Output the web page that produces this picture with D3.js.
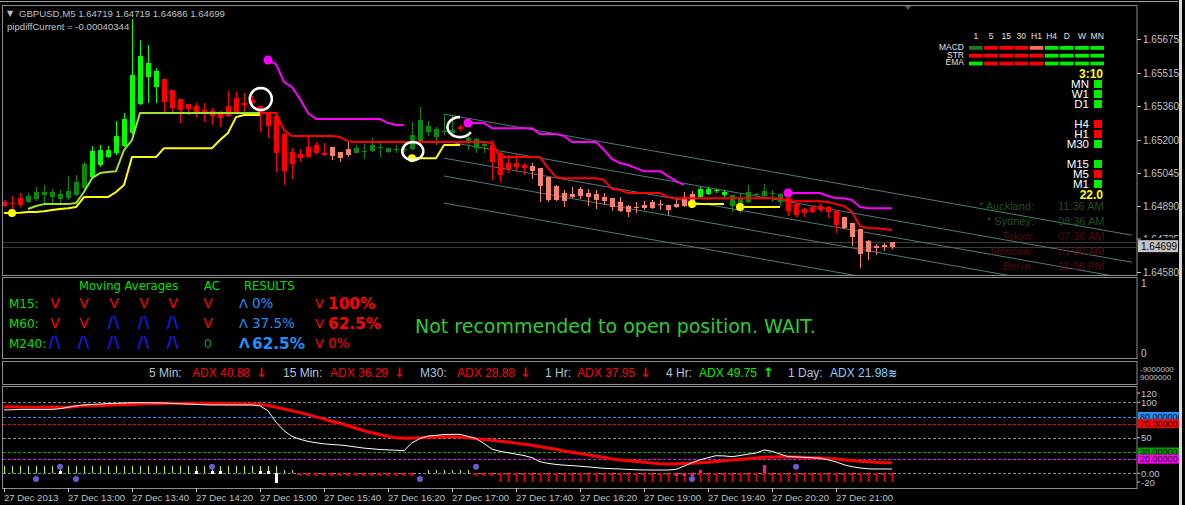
<!DOCTYPE html>
<html><head><meta charset="utf-8">
<script src="https://cdn.jsdelivr.net/npm/d3@7"></script>
<style>html,body{margin:0;padding:0;background:#000;overflow:hidden}svg{display:block}</style>
</head><body><svg id="c" width="1185" height="505"></svg>
<script>
// ---------------- DATA ----------------
const symbolTitle = "GBPUSD,M5";
const headerOHLC = [1.64719, 1.64719, 1.64686, 1.64699];
const pipdiffCurrent = "-0.00040344";
const bidPrice = 1.64699;
const askPrice = 1.64722;
const priceTicks = [1.65675, 1.65515, 1.65360, 1.65200, 1.65045, 1.64890, 1.64735, 1.64580];
const timeLabels = ["27 Dec 2013","27 Dec 13:00","27 Dec 13:40","27 Dec 14:20","27 Dec 15:00","27 Dec 15:40","27 Dec 16:20","27 Dec 17:00","27 Dec 17:40","27 Dec 18:20","27 Dec 19:00","27 Dec 19:40","27 Dec 20:20","27 Dec 21:00"];
const timeLabelBars = [0,8,16,24,32,40,48,56,64,72,80,88,96,104];

const open = [1.64909,1.64904,1.64927,1.64909,1.64923,1.64942,1.64932,1.64923,1.64927,1.64942,
1.64974,1.65026,1.65083,1.65120,1.65139,1.65172,1.65233,1.65369,1.65496,1.65449,
1.65487,1.65435,1.65393,1.65369,1.65360,1.65341,1.65336,1.65327,1.65360,1.65397,
1.65374,1.65388,1.65360,1.65332,1.65313,1.65228,1.65144,1.65134,1.65167,1.65177,
1.65139,1.65167,1.65144,1.65158,1.65139,1.65144,1.65148,1.65162,1.65144,1.65153,
1.65153,1.65158,1.65191,1.65238,1.65214,1.65238,1.65233,1.65261,1.65186,1.65162,
1.65172,1.65177,1.65139,1.65092,1.65092,1.65083,1.65078,1.65068,1.65026,1.64984,
1.64951,1.64946,1.64970,1.64951,1.64946,1.64932,1.64927,1.64909,1.64890,1.64885,
1.64895,1.64909,1.64899,1.64895,1.64899,1.64932,1.64946,1.64932,1.64946,1.64960,
1.64942,1.64890,1.64876,1.64909,1.64942,1.64937,1.64946,1.64909,1.64927,1.64899,
1.64876,1.64885,1.64890,1.64885,1.64866,1.64838,1.64810,1.64782,1.64725,1.64702,
1.64707,1.64719];
const high = [1.64918,1.64937,1.64951,1.64951,1.64979,1.64989,1.64970,1.64965,1.65031,1.65036,
1.65097,1.65172,1.65177,1.65172,1.65289,1.65327,1.65769,1.65670,1.65647,1.65538,
1.65487,1.65435,1.65393,1.65369,1.65374,1.65374,1.65350,1.65336,1.65430,1.65426,
1.65421,1.65407,1.65360,1.65332,1.65327,1.65233,1.65162,1.65158,1.65219,1.65191,
1.65186,1.65167,1.65144,1.65195,1.65177,1.65181,1.65209,1.65186,1.65162,1.65177,
1.65177,1.65285,1.65355,1.65289,1.65261,1.65322,1.65318,1.65271,1.65233,1.65209,
1.65191,1.65200,1.65144,1.65130,1.65139,1.65092,1.65092,1.65068,1.65026,1.64989,
1.64965,1.64979,1.64979,1.64970,1.64965,1.64951,1.64927,1.64932,1.64895,1.64909,
1.64913,1.64918,1.64918,1.64895,1.64923,1.64956,1.64960,1.64979,1.64979,1.64970,
1.64965,1.64942,1.64951,1.64989,1.64951,1.64993,1.64965,1.64951,1.64932,1.64904,
1.64880,1.64895,1.64899,1.64890,1.64871,1.64838,1.64810,1.64782,1.64730,1.64711,
1.64716,1.64719];
const low = [1.64885,1.64857,1.64885,1.64904,1.64913,1.64904,1.64904,1.64895,1.64918,1.64937,
1.64970,1.65021,1.65073,1.65115,1.65130,1.65167,1.65224,1.65365,1.65374,1.65374,
1.65332,1.65322,1.65280,1.65318,1.65308,1.65285,1.65271,1.65261,1.65308,1.65327,
1.65327,1.65360,1.65238,1.65209,1.65050,1.64989,1.65017,1.65097,1.65115,1.65134,
1.65125,1.65106,1.65097,1.65120,1.65139,1.65111,1.65144,1.65120,1.65139,1.65139,
1.65144,1.65153,1.65177,1.65219,1.65177,1.65224,1.65214,1.65242,1.65153,1.65139,
1.65139,1.65012,1.65003,1.65045,1.65050,1.65036,1.65017,1.64909,1.64909,1.64913,
1.64885,1.64927,1.64923,1.64890,1.64876,1.64895,1.64866,1.64862,1.64838,1.64857,
1.64871,1.64876,1.64871,1.64848,1.64880,1.64885,1.64904,1.64927,1.64942,1.64951,
1.64932,1.64862,1.64857,1.64904,1.64932,1.64927,1.64909,1.64890,1.64843,1.64838,
1.64838,1.64857,1.64862,1.64833,1.64763,1.64782,1.64702,1.64598,1.64636,1.64660,
1.64678,1.64686];
const close = [1.64890,1.64899,1.64895,1.64937,1.64956,1.64956,1.64956,1.64946,1.64960,1.65003,
1.65087,1.65148,1.65153,1.65153,1.65219,1.65299,1.65506,1.65595,1.65562,1.65524,
1.65379,1.65350,1.65341,1.65346,1.65327,1.65332,1.65313,1.65303,1.65313,1.65327,
1.65365,1.65374,1.65327,1.65266,1.65139,1.65054,1.65087,1.65115,1.65120,1.65139,
1.65130,1.65125,1.65115,1.65130,1.65162,1.65148,1.65177,1.65167,1.65162,1.65158,
1.65158,1.65224,1.65294,1.65266,1.65252,1.65242,1.65247,1.65252,1.65209,1.65205,
1.65181,1.65097,1.65036,1.65064,1.65073,1.65068,1.65054,1.64984,1.64918,1.64918,
1.64913,1.64932,1.64937,1.64932,1.64918,1.64913,1.64885,1.64866,1.64862,1.64880,
1.64880,1.64880,1.64895,1.64871,1.64885,1.64890,1.64913,1.64970,1.64970,1.64965,
1.64956,1.64942,1.64923,1.64956,1.64946,1.64960,1.64951,1.64946,1.64866,1.64848,
1.64857,1.64862,1.64871,1.64862,1.64801,1.64786,1.64744,1.64664,1.64674,1.64692,
1.64697,1.64699];
// candle colour class: r=red, s=salmon, g=dark green, G=lime
const candleClass = ("rrr"+"gggggggg"+"GGGGGGGGG"+"rrrrrrrrrrrrrrrrrrrrr"+"sss"+"ggggggggggggg"+"r"+"ggg"+"rrrrr"+"sssssssssssssssssssss"+"GGGG"+"ggggggg"+"rrrrrrr"+"sssssss").split("");

const yellowLine = [1.64857,1.64857,1.64859,1.64862,1.64862,1.64866,1.64871,1.64876,1.64880,1.64885,
1.64932,1.64932,1.64932,1.64932,1.64956,1.64989,1.65120,1.65120,1.65120,1.65120,
1.65162,1.65162,1.65162,1.65162,1.65162,1.65162,1.65162,1.65200,1.65233,1.65308,
1.65318,1.65318,1.65318,null,null,null,null,null,null,null,
null,null,null,null,null,null,null,null,null,null,
null,1.65115,1.65115,1.65115,1.65115,1.65177,1.65177,1.65177,null,null,
null,null,null,null,null,null,null,null,null,null,
null,null,null,null,null,null,null,null,null,null,
null,null,null,null,null,null,1.64899,1.64899,1.64899,1.64899,
1.64899,null,1.64885,1.64885,1.64885,1.64885,1.64885,1.64885,null,null,
null,null,null,null,null,null,null,null,null,null,
null,null];
const yellowDots = [1,51,86,92];
const greenYellowLine = [null,null,null,1.64876,1.64890,1.64899,1.64899,1.64899,1.64899,1.64904,
1.64956,1.65021,1.65045,1.65050,1.65054,1.65153,1.65200,1.65327,1.65327,1.65327,
1.65327,1.65327,1.65327,1.65327,1.65327,1.65327,1.65327,1.65327,1.65327,1.65327,
1.65327,1.65327,1.65327,null,null,null,null,null,null,null,
null,null,null,null,null,null,null,null,null,null,
null,null,null,null,null,null,null,null,null,null,
null,null,null,null,null,null,null,null,null,null,
null,null,null,null,null,null,null,null,null,null,
null,null,null,null,null,null,null,null,null,null,
null,null,null,null,null,null,null,null,null,null,
null,null,null,null,null,null,null,null,null,null,
null,null];
const redLine = [null,null,null,null,null,null,null,null,null,null,
null,null,null,null,null,null,null,null,null,null,
null,null,null,null,null,null,null,null,null,null,
null,null,1.65327,1.65327,1.65327,1.65247,1.65219,1.65219,1.65219,1.65219,
1.65219,1.65219,1.65214,1.65195,1.65191,1.65191,1.65191,1.65191,1.65191,1.65191,
1.65191,1.65191,1.65191,1.65191,1.65191,1.65191,1.65191,1.65191,1.65191,1.65191,
1.65191,1.65186,1.65120,1.65120,1.65120,1.65120,1.65120,1.65120,1.65068,1.65026,
1.65021,1.65021,1.65021,1.65021,1.65021,1.65012,1.64970,1.64965,1.64951,1.64951,
1.64951,1.64951,1.64951,1.64932,1.64927,1.64927,1.64927,1.64927,1.64927,1.64927,
1.64927,1.64927,1.64927,1.64927,1.64927,1.64927,1.64927,1.64927,1.64913,1.64913,
1.64913,1.64913,1.64913,1.64909,1.64899,1.64890,1.64862,1.64796,1.64786,1.64786,
1.64782,1.64777];
const magentaLine = [null,null,null,null,null,null,null,null,null,null,
null,null,null,null,null,null,null,null,null,null,
null,null,null,null,null,null,null,null,null,null,
null,null,null,1.65576,1.65557,1.65473,1.65449,1.65393,1.65327,1.65299,
1.65299,1.65299,1.65299,1.65299,1.65299,1.65299,1.65299,1.65299,1.65280,1.65271,
1.65271,null,null,null,null,null,null,null,1.65280,1.65280,
1.65280,1.65256,1.65256,1.65256,1.65256,1.65256,1.65256,1.65228,1.65228,1.65228,
1.65219,1.65191,1.65191,1.65191,1.65191,1.65153,1.65111,1.65092,1.65083,1.65068,
1.65054,1.65054,1.65054,1.65031,1.65007,1.64989,null,null,null,null,
null,null,null,null,null,null,null,null,1.64951,1.64951,
1.64951,1.64951,1.64951,1.64937,1.64927,1.64927,1.64918,1.64885,1.64880,1.64880,
1.64880,1.64880];
const magentaDots = [33,58,98];
// regression channel (start bar 55 -> end bar 141)
const channelBars = [55, 141];
const channelStart = [1.65322, 1.65195, 1.65115, 1.65031, 1.64904];
const channelEnd   = [1.64753, 1.64626, 1.64546, 1.64462, 1.64335];
// hand drawn annotations: [bar, price, rx, ry, arcStartDeg, arcEndDeg]
const annotations = [[32.1,1.65393,11,11,0,360],[51.1,1.65148,10.5,9,0,360],[57,1.65261,12.5,10,-90,-330]];

// MTF panel
const mtfCols = ["1","5","15","30","H1","H4","D","W","MN"];
const mtfRows = ["MACD","STR","EMA"];
const mtfMACD = ["dg","r","r","r","s","g","g","g","g"];
const mtfSTR  = ["r","r","r","r","r","g","g","g","g"];
const mtfEMA  = ["g","r","r","r","r","g","g","g","g"];
const trendTimer = "3:10";
const trendTf = ["MN","W1","D1","H4","H1","M30","M15","M5","M1"];
const trendState = ["up","up","up","dn","dn","up","up","dn","up"];
const spreadText = "22.0";
const cities = ["* Auckland:","* Sydney:","Tokyo:","Moscow:","Berlin:"];
const cityTimes = ["11:36 AM","08:36 AM","07:36 AM","01:36 AM","11:36 PM"];
const cityOpen = [true,true,false,false,false];

// MA panel
const maHeader = ["Moving Averages","AC","RESULTS"];
const maRows = ["M15:","M60:","M240:"];
const maSignals = [["dn","dn","dn","dn","dn"],["dn","dn","up","up","up"],["up","up","up","up","up"]];
const acSignals = ["dn","dn","0"];
const buyPct = ["0%","37.5%","62.5%"];
const sellPct = ["100%","62.5%","0%"];
const buyBold = [false,false,true];
const sellBold = [true,true,false];
const message = "Not recommended to open position. WAIT.";

// ADX strip
const adxTf = ["5 Min:","15 Min:","M30:","1 Hr:","4 Hr:","1 Day:"];
const adxVal = [40.88,36.29,28.88,37.95,49.75,21.98];
const adxDir = ["dn","dn","dn","dn","up","flat"];

// lower indicator
const levels = [100,80,70,50,30,20,0];
const levelColors = ["#8a8a8a","#1e90ff","#ff0000","#8a8a8a","#00b000","#ff00ff","#8a8a8a"];
const lowerTicks = [120,100,50,0,-20];
const lowerTickText = ["120","100","50","0.00","-20"];
const lowerBoxes = [80,70,30,20];
const lowerBoxText = ["80.000000","70.00000","30.00000","20.00000"];
const lowerBoxColor = ["#1e90ff","#ff0000","#00a000","#ff00ff"];
const adxRed = [93.8,93.5,93.5,93,93,93,93,93,93,94,
95,95,95.5,96,96.5,97,97,97.6,98,98.3,
98.6,98.6,98.6,98.6,98.6,98.6,98.4,98.2,98,97.8,
97.6,97.6,97,95.5,93,90.5,88,85.5,82.5,79.5,
76.5,73,70.4,67,63.5,60,57,54.5,52,50,
49.3,49.5,50,50.5,51,51.5,51.5,51,50,48.5,
47.5,46.5,45,44,42.5,41,39.5,37.5,35.5,33.8,
31.5,29.6,28,26,24,22.5,20,18.7,17.5,16.5,
15.5,14.5,13.5,13.1,13.3,13.8,14.3,14.9,15.5,16.5,
17.5,18.7,19.5,20.5,21.5,22.5,23,23.4,23.4,23,
22.5,22,22,21,20,19,18,17,16.3,15.5,
15,14.9];
const adxWhite = [89.2,89.5,90,90,90,90,90,91,93,95,
96.2,97,97.5,98.2,98.6,99,99.4,99.4,99.4,99.2,
99,98.5,98,97.5,97,96.5,96.2,96.2,96.2,96.2,
96.2,96.2,95,88,72,60,52,47.9,45,43,
41.5,40.5,39.9,38.5,37,35.5,34.5,33.5,33,32.5,
31.8,43,49,52.5,53.5,54.5,54.9,54.9,52,49,
42,34,31,29,27,25,22,16.3,14,12.5,
11.5,10.8,10,9,8,7,6.5,6.1,5.5,5,
4.8,4.6,4.6,4.6,5.6,10,15,19,22,24.8,
24.5,23.4,25,27,28.5,32.8,31,27,23.5,23,
22.5,22,21.1,19,16,12,9.3,7.5,6.3,6.1,
6.1,6.1];
const sigUp = [10,10,10,10,10,10,10,10,10,10,
10,10,10,10,10,10,10,10,10,10,
10,10,10,10,10,10,10,10,10,10,
10,10,10,10,10,4.5,4.5,null,null,null,
null,null,null,null,null,null,null,null,null,null,
null,null,null,4.5,4.5,4.5,4.5,4.5,4.5,null,
null,null,null,null,null,null,null,null,null,null,
null,null,null,null,null,null,null,null,null,null,
null,null,null,null,null,null,null,null,null,null,
null,null,null,null,null,null,null,null,null,null,
null,null,null,null,null,null,null,null,null,null,
null,null];
const sigDn = [null,null,null,null,null,null,null,null,null,null,
null,null,null,null,null,null,null,null,null,null,
null,null,null,null,null,null,null,null,null,null,
null,null,null,null,null,null,null,-3.8,-3.8,-3.8,
-3.8,-3.8,-3.8,-3.8,-3.8,-3.8,-3.8,-3.8,-3.8,-3.8,
-3.8,-3.8,null,null,null,null,null,null,null,-3.8,
-3.8,-3.8,-12.3,-12.3,-12.3,-12.3,-12.3,-12.3,-12.3,-12.3,
-12.3,-12.3,-12.3,-12.3,-12.3,-12.3,-12.3,-12.3,-12.3,-12.3,
-12.3,-12.3,-12.3,-12.3,-12.3,-12.3,-12.3,-12.3,-12.3,-12.3,
-12.3,-12.3,-12.3,-12.3,-12.3,-12.3,-12.3,-12.3,-12.3,-12.3,
-12.3,-12.3,-12.3,-12.3,-12.3,-12.3,-12.3,-12.3,-12.3,-12.3,
-12.3,-12.3];
const whiteSquares = [7,24,26,27,32,33];
const whiteSquareVal = 3.5;
const whiteBar = [34, -14];
const pinkSquares = [[84,-1.5],[85,-1.5],[86,-1.5],[87,3]];
const pinkBar = [95, 1, 11.7];
const blueDotsUp = [7,26,59,99];
const blueDotsDn = [4,9,52,86];
const blueUpVal = 9.3, blueDnVal = -8.2;

// ---------------- DRAW ----------------
const F = "'Liberation Sans', Arial, sans-serif";
const FD = "'DejaVu Sans', Verdana, sans-serif";
const svg = d3.select("#c");
svg.append("rect").attr("width",1185).attr("height",505).attr("fill","#000");

const xBar = d3.scaleLinear().domain([0,111]).range([4,892]);
const yP = d3.scaleLinear().domain([1.64580,1.65675]).range([272,39]);
const yI = d3.scaleLinear().domain([0,100]).range([473.3,402.3]);

// outer lines
svg.append("line").attr("x1",0).attr("x2",1178).attr("y1",1.5).attr("y2",1.5).attr("stroke","#a0a0a0");
svg.append("rect").attr("x",1179).attr("y",0).attr("width",3).attr("height",505).attr("fill","#d8d8d8");

const frameC = "#8c8c8c";
[[5.5,275.5],[277.5,358.5],[361.5,384.5],[386.5,488.5]].forEach(([a,b])=>{
  svg.append("rect").attr("x",2.5).attr("y",a).attr("width",1134.5).attr("height",b-a)
    .attr("fill","none").attr("stroke",frameC);
});
svg.append("path").attr("d","M905,6 L911,6 L908,10 Z").attr("fill","#555");

const defs = svg.append("defs");
defs.append("clipPath").attr("id","cm").append("rect").attr("x",3).attr("y",6).attr("width",1134).attr("height",269);
defs.append("clipPath").attr("id","cb").append("rect").attr("x",3).attr("y",387).attr("width",1134).attr("height",101);
defs.append("clipPath").attr("id","cr").append("rect").attr("x",1137).attr("y",380).attr("width",42).attr("height",110);

const main = svg.append("g").attr("clip-path","url(#cm)");

// session clock (faded, behind)
const clk = svg.append("g").attr("font-family",F).attr("font-size",11);
cities.forEach((c,i)=>{
  const col = cityOpen[i] ? "#1d521d" : "#560a0a";
  const y = 210 + i*15;
  clk.append("text").attr("x",1034).attr("y",y).attr("text-anchor","end").attr("fill",col).text(c);
  clk.append("text").attr("x",1058).attr("y",y).attr("fill",col).text(cityTimes[i]);
});

// bid/ask lines
[askPrice,bidPrice].forEach(p=>{
  main.append("line").attr("x1",3).attr("x2",1137).attr("y1",Math.round(yP(p))+0.5).attr("y2",Math.round(yP(p))+0.5)
    .attr("stroke","#3a3a3a");
});

// channel
channelStart.forEach((p,i)=>{
  main.append("line").attr("x1",xBar(channelBars[0])).attr("y1",yP(p))
    .attr("x2",xBar(channelBars[1])).attr("y2",yP(channelEnd[i]))
    .attr("stroke","#527a7a").attr("stroke-width",1);
});

// candles
const colorMap = {r:"#ff0000", s:"#fa8072", g:"#0a8a0a", G:"#00ff00"};
const cg = main.append("g").attr("shape-rendering","crispEdges");
open.forEach((o,i)=>{
  const c = colorMap[candleClass[i]];
  const x = Math.round(xBar(i));
  cg.append("rect").attr("x",x).attr("y",yP(high[i])).attr("width",1).attr("height",Math.max(1,yP(low[i])-yP(high[i]))).attr("fill",c);
  const top = yP(Math.max(o,close[i])), bot = yP(Math.min(o,close[i]));
  cg.append("rect").attr("x",x-2).attr("y",top).attr("width",5).attr("height",Math.max(1,bot-top)).attr("fill",c);
});

// overlay lines
const lineP = d3.line().defined(d=>d!=null).x((d,i)=>xBar(i)).y(d=>yP(d));
function drawLine(arr,col,w){
  main.append("path").attr("d",lineP(arr)).attr("fill","none").attr("stroke",col).attr("stroke-width",w).attr("stroke-linejoin","round");
}
drawLine(greenYellowLine,"#9ee02a",2);
drawLine(yellowLine,"#ffff00",2);
drawLine(redLine,"#ff0000",2);
drawLine(magentaLine,"#ff00ff",2);
yellowDots.forEach(i=> main.append("circle").attr("cx",xBar(i)).attr("cy",yP(yellowLine[i])).attr("r",4).attr("fill","#ffff00"));
magentaDots.forEach(i=> main.append("circle").attr("cx",xBar(i)).attr("cy",yP(magentaLine[i])).attr("r",4.5).attr("fill","#ff00ff"));

// annotations
annotations.forEach(([b,p,rx,ry,a0,a1])=>{
  const cx = xBar(b), cy = yP(p);
  const pts = d3.range(0,41).map(k=>{
    const a = (a0 + (a1-a0)*k/40)*Math.PI/180;
    return [cx+rx*Math.cos(a), cy+ry*Math.sin(a)];
  });
  main.append("path").attr("d",d3.line()(pts)).attr("fill","none").attr("stroke","#fff").attr("stroke-width",2.6);
});

// header texts
svg.append("text").attr("x",7).attr("y",16).attr("font-size",8).attr("font-family",FD).attr("fill","#c0c0c0").text("▼");
svg.append("text").attr("x",19).attr("y",17).attr("font-family",F).attr("font-size",9.6).attr("fill","#c0c0c0")
  .text(symbolTitle+"  "+headerOHLC.map(d=>d.toFixed(5)).join(" "));
svg.append("text").attr("x",7).attr("y",30).attr("font-family",F).attr("font-size",9.6).attr("fill","#c0c0c0")
  .text("pipdiffCurrent = "+pipdiffCurrent);

// price axis
const pAxis = svg.append("g").attr("transform","translate(1137,0)")
  .call(d3.axisRight(yP).tickValues(priceTicks.filter(p=>p!==1.64735)).tickFormat(d3.format(".5f")).tickSize(4).tickPadding(2));
pAxis.select(".domain").remove();
pAxis.selectAll("line").attr("stroke","#c0c0c0");
pAxis.selectAll("text").attr("fill","#c0c0c0").attr("font-family",F).attr("font-size",10);
// tick hidden behind the current-price box: only its top part shows
svg.append("line").attr("x1",1137).attr("x2",1141).attr("y1",yP(1.64735)).attr("y2",yP(1.64735)).attr("stroke","#c0c0c0");
defs.append("clipPath").attr("id","ch").append("rect").attr("x",1137).attr("y",yP(1.64735)-6).attr("width",42).attr("height",5);
svg.append("text").attr("clip-path","url(#ch)").attr("x",1143).attr("y",yP(1.64735)+3.5).attr("font-family",F).attr("font-size",10).attr("fill","#c0c0c0").text("1.64735");
// current price box
svg.append("rect").attr("x",1138).attr("y",yP(bidPrice)-6.5).attr("width",40).attr("height",12).attr("fill","#c4c4c4");
svg.append("text").attr("x",1141).attr("y",yP(bidPrice)+3.5).attr("font-family",F).attr("font-size",10).attr("fill","#000").text(bidPrice.toFixed(5));

// MTF panel
const mtf = svg.append("g").attr("font-family",F);
const colX = d3.scaleBand().domain(mtfCols).range([969,1104]).paddingInner(0.1);
const mtfColor = {dg:"#1f7a1f", r:"#ff0000", s:"#ff6a50", g:"#00ee00"};
mtfCols.forEach(c=>{
  mtf.append("text").attr("x",colX(c)+colX.bandwidth()/2).attr("y",38.5).attr("text-anchor","middle")
    .attr("font-size",8.5).attr("fill","#e0e0e0").text(c);
});
[mtfMACD,mtfSTR,mtfEMA].forEach((row,r)=>{
  const y = 46 + r*7.8;
  mtf.append("text").attr("x",964).attr("y",y+3.8).attr("text-anchor","end").attr("font-size",8.5).attr("fill","#e0e0e0").text(mtfRows[r]);
  row.forEach((v,k)=>{
    mtf.append("rect").attr("x",colX(mtfCols[k])).attr("y",y).attr("width",colX.bandwidth()).attr("height",3.8).attr("fill",mtfColor[v]);
  });
});
mtf.append("text").attr("x",1103).attr("y",78).attr("text-anchor","end").attr("font-size",12).attr("font-weight","bold").attr("fill","#ffff00").text(trendTimer);
const trendY = [88,98,108,128,138,148,168,178,188];
trendTf.forEach((t,i)=>{
  mtf.append("text").attr("x",1089).attr("y",trendY[i]).attr("text-anchor","end").attr("font-size",11.5)
    .attr("fill","#fff").text(t);
  mtf.append("rect").attr("x",1094).attr("y",trendY[i]-8).attr("width",8).attr("height",8)
    .attr("fill",trendState[i]==="up"?"#00ee00":"#ff0000");
});
mtf.append("text").attr("x",1103).attr("y",199).attr("text-anchor","end").attr("font-size",12).attr("font-weight","bold").attr("fill","#ffff00").text(spreadText);

// MA panel
const ma = svg.append("g").attr("font-family",FD);
ma.append("text").attr("x",79).attr("y",290).attr("font-size",11.6).attr("fill","#00e000").text(maHeader[0]);
ma.append("text").attr("x",204).attr("y",290).attr("font-size",11.6).attr("fill","#00e000").text(maHeader[1]);
ma.append("text").attr("x",244).attr("y",290).attr("font-size",11.6).attr("fill","#00e000").text(maHeader[2]);
const colCenters = [55,84,114,144,173];
maRows.forEach((r,i)=>{
  const base = 308 + i*20;
  ma.append("text").attr("x",9).attr("y",base).attr("font-size",12).attr("fill","#00e000").text(r);
  maSignals[i].forEach((s,k)=>{
    if(s==="dn") ma.append("text").attr("x",colCenters[k]).attr("y",base).attr("text-anchor","middle").attr("font-size",14).attr("fill","#ff0000").text("V");
    else ma.append("text").attr("x",colCenters[k]).attr("y",base+1).attr("text-anchor","middle").attr("font-family",F).attr("font-size",19).attr("fill","#1a1aff").attr("letter-spacing",1).text("/\\");
  });
  const ac = acSignals[i];
  if(ac==="dn") ma.append("text").attr("x",208).attr("y",base).attr("text-anchor","middle").attr("font-size",14).attr("fill","#ff0000").text("V");
  else ma.append("text").attr("x",208).attr("y",base).attr("text-anchor","middle").attr("font-size",13).attr("fill","#1f8f1f").text(ac);
  // buy
  ma.append("text").attr("x",239).attr("y",base).attr("font-size",buyBold[i]?14:13).attr("font-weight",buyBold[i]?"bold":"normal").attr("fill","#1e90ff").text("Λ");
  ma.append("text").attr("x",252).attr("y",base+ (buyBold[i]?1:0)).attr("font-size",buyBold[i]?15.3:13.5).attr("font-weight",buyBold[i]?"bold":"normal").attr("fill","#1e90ff").text(buyPct[i]);
  // sell
  ma.append("text").attr("x",315).attr("y",base).attr("font-size",13).attr("fill","#ff0000").text("V");
  ma.append("text").attr("x",328).attr("y",base+(sellBold[i]?1:0)).attr("font-size",sellBold[i]?15.3:13.5).attr("font-weight",sellBold[i]?"bold":"normal").attr("fill","#ff0000").text(sellPct[i]);
});
ma.append("text").attr("x",415).attr("y",333).attr("font-size",19).attr("fill","#2ecc2e").text(message);
// MA panel axis
const yMid = d3.scaleLinear().domain([0,1]).range([353,283]);
[1,0].forEach(v=> svg.append("text").attr("x",1141).attr("y",yMid(v)+3.5).attr("font-family",F).attr("font-size",10).attr("fill","#c0c0c0").text(v));

// ADX strip
const adxG = svg.append("g").attr("font-family",F).attr("font-size",12);
const adxLabelX = [149,283,420,545,666,788];
const adxValX = [192,330,457,577,699,830];
const adxArrX = [256,394,520,640,763,888];
adxTf.forEach((t,i)=>{
  const col = adxDir[i]==="up" ? "#00ee00" : adxDir[i]==="dn" ? "#ff0000" : "#87cefa";
  adxG.append("text").attr("x",adxLabelX[i]).attr("y",377).attr("fill","#b0c4de").text(t);
  adxG.append("text").attr("x",adxValX[i]).attr("y",377).attr("fill",col).text("ADX "+adxVal[i].toFixed(2));
  const sym = adxDir[i]==="up" ? "↑" : adxDir[i]==="dn" ? "↓" : "≋";
  adxG.append("text").attr("x",adxArrX[i]).attr("y",377).attr("fill",col).attr("font-family",FD).attr("font-weight","bold").attr("font-size",adxDir[i]==="flat"?11:13).text(sym);
});
svg.append("text").attr("x",1140).attr("y",372).attr("font-family",F).attr("font-size",8).attr("fill","#c0c0c0").text("-9000000");
svg.append("text").attr("x",1140).attr("y",380).attr("font-family",F).attr("font-size",8).attr("fill","#c0c0c0").text("9000000");

// lower indicator
const lowG = svg.append("g").attr("clip-path","url(#cb)");
levels.forEach((v,i)=>{
  lowG.append("line").attr("x1",3).attr("x2",1137).attr("y1",Math.round(yI(v))+0.5).attr("y2",Math.round(yI(v))+0.5)
    .attr("stroke",levelColors[i]).attr("stroke-dasharray","3,2");
});
const tk = lowG.append("g").attr("shape-rendering","crispEdges");
sigUp.forEach((v,i)=>{ if(v!=null) tk.append("rect").attr("x",Math.round(xBar(i))).attr("y",yI(v)).attr("width",1.2).attr("height",yI(0)-yI(v)).attr("fill","#b4ff2a"); });
sigDn.forEach((v,i)=>{ if(v!=null){
  tk.append("rect").attr("x",Math.round(xBar(i))).attr("y",yI(0)).attr("width",1.2).attr("height",yI(v)-yI(0)).attr("fill","#ff0000");
  tk.append("rect").attr("x",Math.round(xBar(i))-3).attr("y",yI(0)).attr("width",4).attr("height",1.2).attr("fill","#ff0000");
}});
whiteSquares.forEach(i=> tk.append("rect").attr("x",Math.round(xBar(i))-1).attr("y",yI(whiteSquareVal)).attr("width",3).attr("height",3).attr("fill","#fff"));
tk.append("rect").attr("x",Math.round(xBar(whiteBar[0]))-1).attr("y",yI(0)).attr("width",3).attr("height",yI(whiteBar[1])-yI(0)).attr("fill","#fff");
pinkSquares.forEach(([i,v])=> tk.append("rect").attr("x",Math.round(xBar(i))-1).attr("y",yI(v)-1.5).attr("width",3).attr("height",3).attr("fill","#ff1493"));
tk.append("rect").attr("x",Math.round(xBar(pinkBar[0]))-1).attr("y",yI(pinkBar[2])).attr("width",3).attr("height",yI(pinkBar[1])-yI(pinkBar[2])).attr("fill","#ff1493");
const lineI = d3.line().x((d,i)=>xBar(i)).y(d=>yI(d));
lowG.append("path").attr("d",lineI(adxRed)).attr("fill","none").attr("stroke","#ff0000").attr("stroke-width",3);
lowG.append("path").attr("d",lineI(adxWhite)).attr("fill","none").attr("stroke","#fff").attr("stroke-width",1);
blueDotsUp.forEach(i=> lowG.append("circle").attr("cx",xBar(i)).attr("cy",yI(blueUpVal)).attr("r",3).attr("fill","#6a5acd"));
blueDotsDn.forEach(i=> lowG.append("circle").attr("cx",xBar(i)).attr("cy",yI(blueDnVal)).attr("r",3).attr("fill","#6a5acd"));
// lower axis
const la = svg.append("g").attr("font-family",F).attr("font-size",9.5).attr("fill","#c0c0c0");
lowerTicks.forEach((v,i)=>{
  const y = Math.max(393, Math.min(482, yI(v)));
  la.append("line").attr("x1",1137).attr("x2",1140).attr("y1",y).attr("y2",y).attr("stroke","#c0c0c0");
  la.append("text").attr("x",1141).attr("y",y+3.5).text(lowerTickText[i]);
});
const lb = svg.append("g").attr("clip-path","url(#cr)").attr("font-family",F).attr("font-size",9);
lowerBoxes.forEach((v,i)=>{
  lb.append("rect").attr("x",1138).attr("y",yI(v)-4.5).attr("width",41).attr("height",9).attr("fill",lowerBoxColor[i]);
  lb.append("text").attr("x",1140).attr("y",yI(v)+3.2).attr("fill","#000").text(lowerBoxText[i]);
});

// time axis
const tAxis = svg.append("g").attr("transform","translate(0,488)")
  .call(d3.axisBottom(xBar).tickValues(timeLabelBars).tickFormat((d,i)=>timeLabels[i]).tickSize(4).tickPadding(2));
tAxis.select(".domain").remove();
tAxis.selectAll("line").attr("stroke","#c0c0c0");
tAxis.selectAll("text").attr("fill","#c0c0c0").attr("font-family",F).attr("font-size",9.6)
  .attr("text-anchor","start").attr("dx",-0.5).attr("y",6);
</script>
</body></html>
